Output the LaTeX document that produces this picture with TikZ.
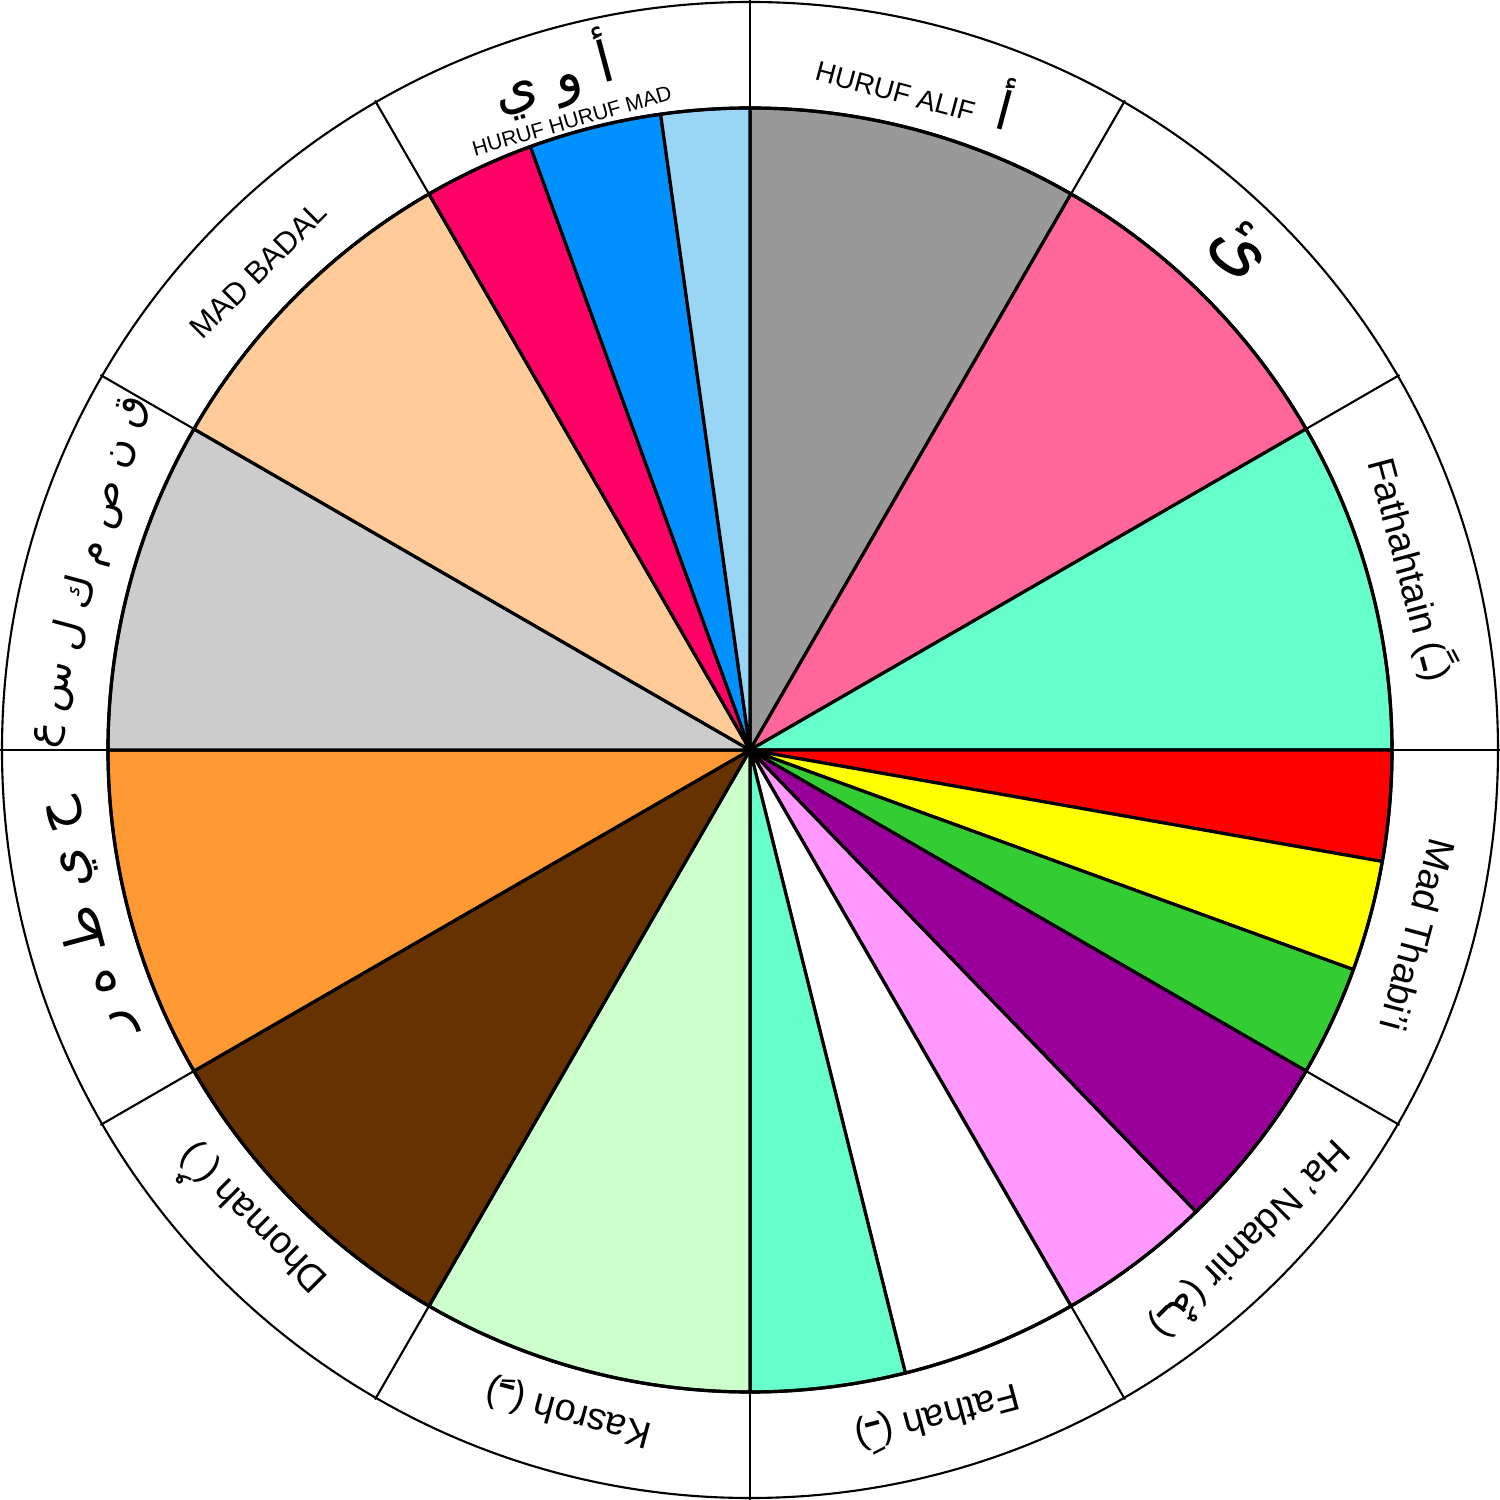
\documentclass[tikz,border=0pt]{standalone}
\usepackage{fontspec}
\setmainfont{Liberation Sans}
\newfontfamily\arabicfont[Script=Arabic]{DejaVu Sans}
\TeXXeTstate=1
\definecolor{cgray}{HTML}{999999}
\definecolor{cpink}{HTML}{FF6699}
\definecolor{cmint}{HTML}{66FFCC}
\definecolor{cred}{HTML}{FF0000}
\definecolor{cyellow}{HTML}{FFFF00}
\definecolor{cgreen}{HTML}{33CC33}
\definecolor{cpurple}{HTML}{990099}
\definecolor{cviolet}{HTML}{FF99FF}
\definecolor{cwhite}{HTML}{FFFFFF}
\definecolor{clgreen}{HTML}{CCFFCC}
\definecolor{cbrown}{HTML}{663300}
\definecolor{corange}{HTML}{FF9933}
\definecolor{clgray}{HTML}{CCCCCC}
\definecolor{cpeach}{HTML}{FFCC99}
\definecolor{cmagenta}{HTML}{FF0066}
\definecolor{cblue}{HTML}{0090FF}
\definecolor{clblue}{HTML}{99D6F6}
\newcommand{\ar}[1]{{\arabicfont\fontsize{13}{14}\selectfont #1}}
\tikzset{
  slice/.style={draw=black, line width=0.9pt, line join=round},
  ringline/.style={draw=black, line width=0.6pt},
  lbl/.style={inner sep=0pt, font=\fontsize{10.8}{12}\selectfont},
}
\begin{document}
\begin{tikzpicture}[x=0.01cm,y=0.01cm]
\useasboundingbox (-750,-750) rectangle (750,750);
% pie slices
\foreach \a/\b/\c in {60/90/cgray, 30/60/cpink, 0/30/cmint, -10/0/cred, -20/-10/cyellow, -30/-20/cgreen, -46/-30/cpurple, -60/-46/cviolet, -76/-60/cwhite, -90/-76/cmint, -120/-90/clgreen, -150/-120/cbrown, -180/-150/corange, 150/180/clgray, 120/150/cpeach, 110/120/cmagenta, 98/110/cblue, 90/98/clblue}
  \filldraw[slice, fill=\c] (0,0) -- (\a:642) arc[start angle=\a, end angle=\b, radius=642] -- cycle;
\draw[slice] (0,0) circle[radius=642];
% outer ring
\draw[ringline] (0,0) circle[radius=748];
\foreach \a in {0,30,...,330}
  \draw[ringline] (\a:642) -- (\a:750);
% labels
\node[lbl, rotate=-15] (alif) at (76:690) {\fontsize{7.9}{9}\selectfont HURUF ALIF\hspace{6pt}{\arabicfont\fontsize{15}{16}\selectfont أ}};
\node[lbl, rotate=-45] (ya) at (45.6:700) {\arabicfont\fontsize{21}{22}\selectfont ئ};
\node[lbl, rotate=-75] (fathahtain) at (15.3:686) {Fathahtain (\ar{ـً})};
\node[lbl, rotate=-105] (thabii) at (-15.5:693) {Mad Thabi’i};
\node[lbl, rotate=-135] (ndamir) at (-44.4:700) {Ha’ Ndamir (\ar{ـهُ})};
\node[lbl, rotate=-165] (fathah) at (-74.3:693) {Fathah (\ar{ـَ})};
\node[lbl, rotate=165] (kasroh) at (-105.3:686) {Kasroh (\ar{ـِ})};
\node[lbl, rotate=135] (dhomah) at (-136.7:687) {Dhomah (\ar{\char"FE78})};
\node[lbl, rotate=105] (hayy) at (194.2:687) {\arabicfont\fontsize{15}{16}\selectfont\beginR ح ي ط ه ر\endR};
\node[lbl, rotate=75] (naqs) at (164.9:686) {\arabicfont\fontsize{11.5}{13}\selectfont\beginR ق ن ص م ك ل س ع\endR};
\node[lbl, rotate=45, font=\fontsize{8.8}{10}\selectfont] (badal) at (135.7:687) {MAD BADAL};
\node[lbl, rotate=15] (awy) at (106.3:703) {\arabicfont\fontsize{16}{17}\selectfont\beginR أ و ي\endR};
\node[lbl, rotate=16, font=\fontsize{6}{7}\selectfont] (hurufmad) at (105.8:654) {HURUF HURUF MAD};
\end{tikzpicture}
\end{document}
